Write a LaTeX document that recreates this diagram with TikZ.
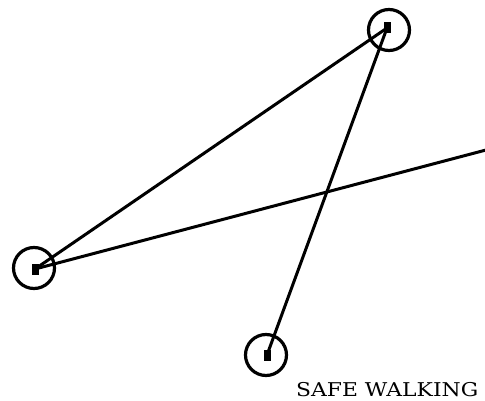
\documentclass[tikz,border=0pt]{standalone}
\usepackage{fontspec}
\setmainfont{DejaVu Serif}
\usepackage{tikz}
\usetikzlibrary{positioning,calc}

\begin{document}
\begin{tikzpicture}[x=1pt, y=-1pt,
  stop/.style={circle, draw, line width=3.2pt, minimum size=41pt, inner sep=0pt},
  pin/.style={rectangle, fill=black, minimum width=7pt, minimum height=11pt, inner sep=0pt},
  path/.style={line width=3pt},
  lbl/.style={font=\fontsize{19}{21}\selectfont, inner sep=0pt, anchor=base west}
]
\useasboundingbox (0,0) rectangle (485,401);

% Stops
\node[stop] (top) at (389,30) {};
\node[stop] (left) at (34,268) {};
\node[stop] (bot) at (266,355) {};
\node[pin] (ptop) at (387,28) {};
\node[pin] (pleft) at (35,269) {};
\node[pin] (pbot) at (267,355) {};
\coordinate (rend) at (486,150);

% Walking paths
\draw[path] (pleft.center) -- (ptop.center);
\draw[path] (pleft.center) -- (rend);
\draw[path] (pbot.center) -- (ptop.center);

% Label
\node[lbl] (title) at (296,396) {\scalebox{1.15}[1]{SAFE WALKING}};

\end{tikzpicture}
\end{document}
